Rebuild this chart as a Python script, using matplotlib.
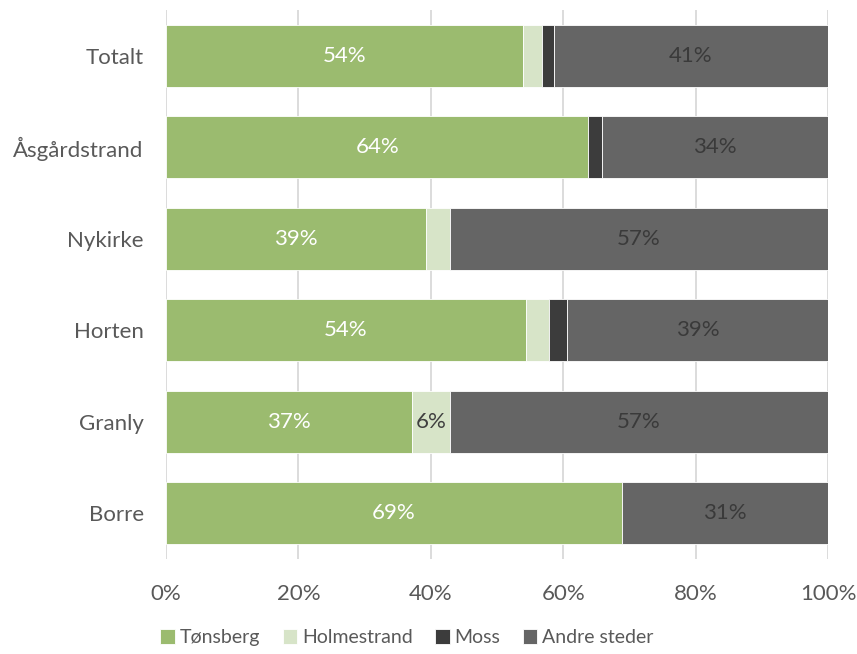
import matplotlib
matplotlib.use("Agg")
import matplotlib.pyplot as plt
import numpy as np

categories = ["Totalt", "Åsgårdstrand", "Nykirke", "Horten", "Granly", "Borre"]
series_names = ["Tønsberg", "Holmestrand", "Moss", "Andre steder"]
tonsberg = [53.9, 63.8, 39.3, 54.4, 37.2, 68.9]
holmestrand = [2.9, 0.0, 3.6, 3.4, 5.7, 0.0]
moss = [1.8, 2.0, 0.0, 2.8, 0.0, 0.0]
andre = [41.4, 34.2, 57.1, 39.4, 57.1, 31.1]
tick_labels = ["0%", "20%", "40%", "60%", "80%", "100%"]

colors = ["#9BBB6F", "#D7E4C8", "#3C3C3C", "#656565"]
label_colors = ["white", "#404040", "white", "#3A3A3A"]
label_min = [10, 5, 10, 10]

plt.rcParams['font.family'] = ['Lato', 'DejaVu Sans']
fig = plt.figure(figsize=(8.57, 6.54), dpi=100)
ax = fig.add_axes([166/857, (654-559)/654, (828-166)/857, (559-10)/654])

y = np.arange(len(categories))
data = [tonsberg, holmestrand, moss, andre]
left = np.zeros(len(categories))
for name, vals, col, lc, lm in zip(series_names, data, colors, label_colors, label_min):
    vals = np.array(vals)
    ax.barh(y, vals, left=left, height=0.68, color=col, label=name,
            edgecolor="white", linewidth=0.6, zorder=2)
    for yi, (l, v) in enumerate(zip(left, vals)):
        if v >= lm:
            ax.text(l + v / 2, yi, f"{round(v):d}%", ha="center", va="center",
                    color=lc, fontsize=16, zorder=3)
    left = left + vals

ax.set_xlim(0, 100)
ax.set_ylim(len(categories) - 0.5, -0.5)
ax.set_yticks(y)
ax.set_yticklabels(categories, fontsize=16, color="#595959")
ax.set_xticks(np.arange(0, 101, 20))
ax.set_xticklabels(tick_labels, fontsize=16, color="#595959")
ax.tick_params(axis="both", length=0)
ax.tick_params(axis="y", pad=16)
ax.tick_params(axis="x", pad=18)
ax.grid(axis="x", color="#D9D9D9", linewidth=1.3, zorder=0)
for s in ax.spines.values():
    s.set_visible(False)

leg = fig.legend(loc="lower center", bbox_to_anchor=(0.475, -0.015), ncol=4, frameon=False,
                 fontsize=14, handlelength=0.75, handleheight=0.75, handletextpad=0.25,
                 columnspacing=1.15)
for t in leg.get_texts():
    t.set_color("#595959")

fig.savefig("out.png", dpi=100)
